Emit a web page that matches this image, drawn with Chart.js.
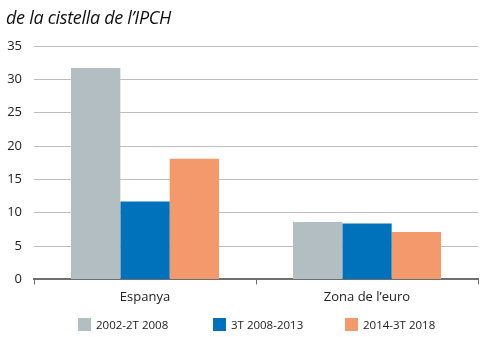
<!DOCTYPE html>
<html>
<head>
<meta charset="utf-8">
<script src="https://cdn.jsdelivr.net/npm/chart.js@4/dist/chart.umd.min.js"></script>
<style>
  html, body { margin: 0; padding: 0; background: #fff; }
  #wrap { width: 489px; height: 337px; position: relative; }
  #titol {
    position: absolute; left: 6px; top: 5px;
    font-family: 'Open Sans', 'Noto Sans', sans-serif;
    font-style: italic; font-size: 18px; color: #111;
    letter-spacing: -0.3px;
  }
  #llegenda {
    position: absolute; left: 0; top: 317px; width: 489px;
    font-family: 'Open Sans', 'Noto Sans', sans-serif; font-size: 11.5px; color: #222;
  }
  #llegenda span.item { position: absolute; top: 0; white-space: nowrap; line-height: 16px; }
  #llegenda span.box { display: inline-block; width: 13px; height: 13px; vertical-align: -2px; margin-right: 5px; }
</style>
</head>
<body>
<div id="wrap">
  <canvas id="grafic"></canvas>
  <div id="titol">de la cistella de l&#8217;IPCH</div>
  <div id="llegenda"></div>
</div>
<script>
"use strict";

const categories = ["Espanya", "Zona de l\u2019euro"];
const serieLabels = ["2002-2T 2008", "3T 2008-2013", "2014-3T 2018"];
const valors2002 = [31.7, 8.6];
const valors2008 = [11.7, 8.4];
const valors2014 = [18.1, 7.1];
const yTicks = [0, 5, 10, 15, 20, 25, 30, 35];

const colors = ["#b3bec3", "#0072bb", "#f4996b"];
const legendX = [78, 213, 345];
const fontFamily = "'Open Sans', 'Noto Sans', sans-serif";

const ctx = document.getElementById("grafic").getContext("2d");

const chart = new Chart(ctx, {
    type: "bar",
    data: {
        labels: categories,
        datasets: [valors2002, valors2008, valors2014].map((valors, i) => ({
            label: serieLabels[i],
            data: valors,
            backgroundColor: colors[i],
            borderWidth: 0,
            categoryPercentage: 0.667,
            barPercentage: 1.0
        }))
    },
    options: {
        responsive: true,
        maintainAspectRatio: false,
        animation: false,
        layout: { padding: { left: 0, right: 11, top: 46, bottom: 27 } },
        plugins: {
            legend: { display: false },
            tooltip: { enabled: false }
        },
        scales: {
            x: {
                grid: {
                    display: true,
                    drawOnChartArea: false,
                    drawTicks: true,
                    tickLength: 5,
                    color: "#6d6e71",
                    offset: true
                },
                border: { display: true, color: "#6d6e71", width: 2 },
                ticks: {
                    color: "#222",
                    font: { family: fontFamily, size: 13 },
                    padding: 5
                }
            },
            y: {
                min: 0,
                max: 35,
                afterBuildTicks: (axis) => {
                    axis.ticks = yTicks.map(v => ({ value: v }));
                },
                afterFit: (axis) => {
                    axis.width = 34;
                },
                grid: {
                    color: "#bcbec0",
                    lineWidth: 1,
                    drawTicks: false
                },
                border: { display: false },
                ticks: {
                    color: "#222",
                    font: { family: fontFamily, size: 13 },
                    padding: 12
                }
            }
        }
    }
});

// llegenda HTML amb els mateixos colors dels datasets
const llegenda = document.getElementById("llegenda");
chart.data.datasets.forEach((ds, i) => {
    const item = document.createElement("span");
    item.className = "item";
    item.style.left = legendX[i] + "px";
    const box = document.createElement("span");
    box.className = "box";
    box.style.background = ds.backgroundColor;
    item.appendChild(box);
    item.appendChild(document.createTextNode(ds.label));
    llegenda.appendChild(item);
});
</script>
</body>
</html>
